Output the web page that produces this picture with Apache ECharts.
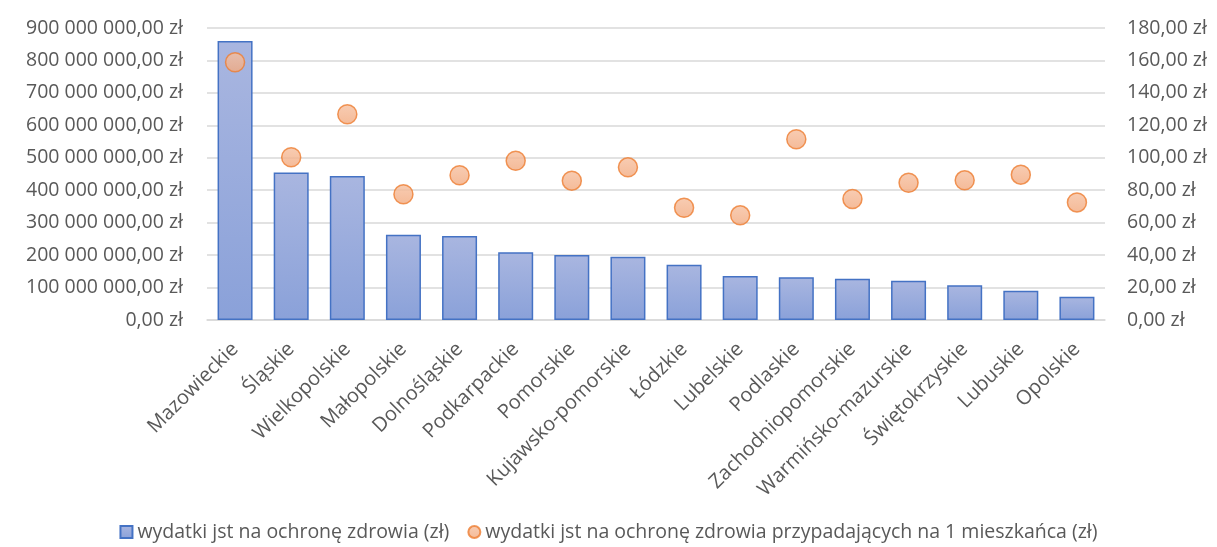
<!DOCTYPE html>
<html>
<head>
<meta charset="utf-8">
<script src="https://cdn.jsdelivr.net/npm/echarts@6/dist/echarts.min.js"></script>
<style>
  html, body { margin: 0; padding: 0; background: #fff; }
  #chart { width: 1217px; height: 547px; }
</style>
</head>
<body>
<div id="chart"></div>
<script>
var categories = ['Mazowieckie', 'Śląskie', 'Wielkopolskie', 'Małopolskie', 'Dolnośląskie', 'Podkarpackie',
    'Pomorskie', 'Kujawsko-pomorskie', 'Łódzkie', 'Lubelskie', 'Podlaskie', 'Zachodniopomorskie',
    'Warmińsko-mazurskie', 'Świętokrzyskie', 'Lubuskie', 'Opolskie'];
var totalSpend = [860000000, 455000000, 444000000, 263000000, 259000000, 209000000, 200000000, 195000000,
    170000000, 136000000, 132000000, 127000000, 121000000, 107000000, 90000000, 72000000];
var perCapita = [158.9, 100.3, 126.8, 77.5, 89.2, 98.2, 85.9, 94.1, 69.2, 64.5, 111.4, 74.6, 84.6, 86.1, 89.6, 72.5];

var seriesNames = ['wydatki jst na ochronę zdrowia (zł)', 'wydatki jst na ochronę zdrowia przypadających na 1 mieszkańca (zł)'];

function fmtZl(v) {
    var parts = v.toFixed(2).split('.');
    var intPart = parts[0].replace(/\B(?=(\d{3})+(?!\d))/g, ' ');
    return intPart + ',' + parts[1] + ' zł';
}

var textFont = '"Open Sans", sans-serif';
var myChart = echarts.init(document.getElementById('chart'));
var option = {
    animation: false,
    textStyle: { fontFamily: textFont },
    grid: { left: 207, right: 112, top: 28, bottom: 227 },
    legend: {
        bottom: 0,
        left: 'center',
        itemWidth: 12,
        itemHeight: 12,
        itemGap: 18,
        textStyle: { fontSize: 19.5, color: '#595959', fontFamily: textFont },
        data: [
            { name: seriesNames[0], icon: 'rect' },
            { name: seriesNames[1], icon: 'circle' }
        ]
    },
    xAxis: {
        type: 'category',
        data: categories,
        axisTick: { show: false },
        axisLine: { lineStyle: { color: '#d9d9d9', width: 1.5 } },
        axisLabel: { rotate: 45, fontSize: 20, color: '#595959', interval: 0, margin: 26 }
    },
    yAxis: [
        {
            type: 'value', min: 0, max: 900000000, interval: 100000000,
            axisLabel: { formatter: fmtZl, fontSize: 19.5, color: '#595959', margin: 24 },
            splitLine: { lineStyle: { color: '#d9d9d9', width: 1.5 } }
        },
        {
            type: 'value', min: 0, max: 180, interval: 20,
            axisLabel: { formatter: fmtZl, fontSize: 19.5, color: '#595959', margin: 22 },
            splitLine: { show: false }
        }
    ],
    series: [
        {
            name: seriesNames[0],
            type: 'bar',
            data: totalSpend,
            barWidth: 35,
            itemStyle: {
                color: new echarts.graphic.LinearGradient(0, 0, 0, 1, [
                    { offset: 0, color: '#a9b6e0' },
                    { offset: 1, color: '#8aa1d9' }
                ]),
                borderColor: '#4472c4',
                borderWidth: 1.5
            }
        },
        {
            name: seriesNames[1],
            type: 'scatter',
            yAxisIndex: 1,
            data: perCapita,
            symbol: 'circle',
            symbolSize: 19,
            itemStyle: {
                color: new echarts.graphic.LinearGradient(0, 0, 0, 1, [
                    { offset: 0, color: '#f6c0a0' },
                    { offset: 1, color: '#f2a97e' }
                ]),
                borderColor: '#ed7d31',
                borderWidth: 1.5
            }
        }
    ]
};
myChart.setOption(option);
</script>
</body>
</html>
